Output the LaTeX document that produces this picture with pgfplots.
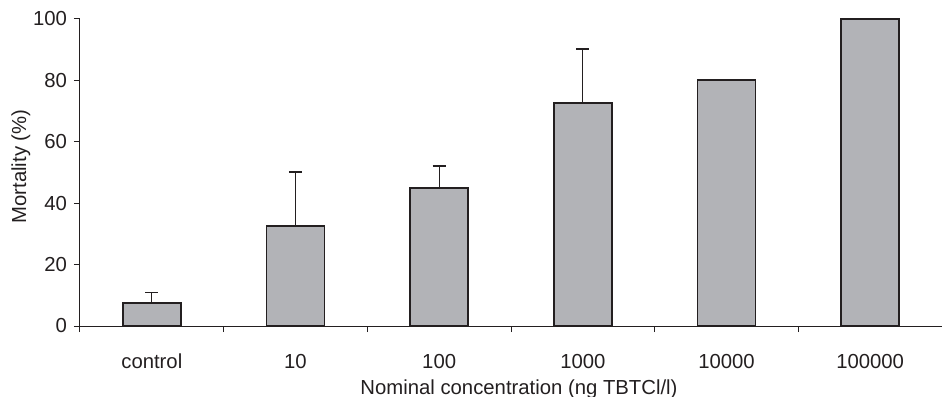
\documentclass[border=0pt]{standalone}
\usepackage{pgfplots}
\pgfplotsset{compat=1.18}
\usepackage{fontspec}
\setmainfont{Liberation Sans}
\definecolor{barfill}{HTML}{B2B3B7}
\definecolor{ink}{HTML}{231F20}
\begin{document}
\fontsize{20.3bp}{24bp}\selectfont
\begin{tikzpicture}
\begin{axis}[
  at={(0,0)}, anchor=south west,
  width=862bp, height=307bp, scale only axis,
  xmin=-0.5, xmax=5.5, ymin=0, ymax=100,
  axis lines*=left,
  axis line style={ink, line width=1bp},
  every tick/.style={ink, line width=1bp},
  tick align=outside,
  xtick={0,1,2,3,4,5},
  xticklabels={control,10,100,1000,10000,100000},
  major x tick style={draw=none},
  minor xtick={-0.5,0.5,1.5,2.5,3.5,4.5},
  minor tick length=6bp,
  ytick={0,20,40,60,80,100},
  major tick length=6bp,
  tick label style={font=\fontsize{20.3bp}{24bp}\selectfont, text=ink},
  /pgf/number format/assume math mode=true,
  xticklabel style={anchor=base, yshift=-36bp},
  yticklabel style={anchor=east},
  label style={font=\fontsize{20.3bp}{24bp}\selectfont, text=ink},
  xlabel={Nominal concentration (ng TBTCl/l)},
  xlabel style={at={(axis description cs:0.5,0)}, anchor=base, yshift=-68bp, xshift=8bp},
  ylabel={Mortality (\%)},
  ylabel style={at={(axis description cs:0,0.5)}, anchor=center, xshift=6bp, yshift=59bp},
  ybar, bar width=0.404,
  clip=false,
]
\addplot[
  fill=barfill, draw=ink, line width=1.4bp,
  error bars/.cd, y dir=plus, y explicit,
  error bar style={ink, line width=1.3bp},
  error mark options={rotate=90, mark size=6.5bp, ink, line width=1.3bp},
] coordinates {
  (0,7.5) +- (0,3.5)
  (1,32.6) +- (0,17.6)
  (2,44.9) +- (0,7.2)
  (3,72.7) +- (0,17.5)
  (4,80.1) +- (0,0)
  (5,100) +- (0,0)
};
\end{axis}
\pgfresetboundingbox
\path[use as bounding box] (-80bp,-71bp) rectangle (862bp,326bp);
\end{tikzpicture}
\end{document}
